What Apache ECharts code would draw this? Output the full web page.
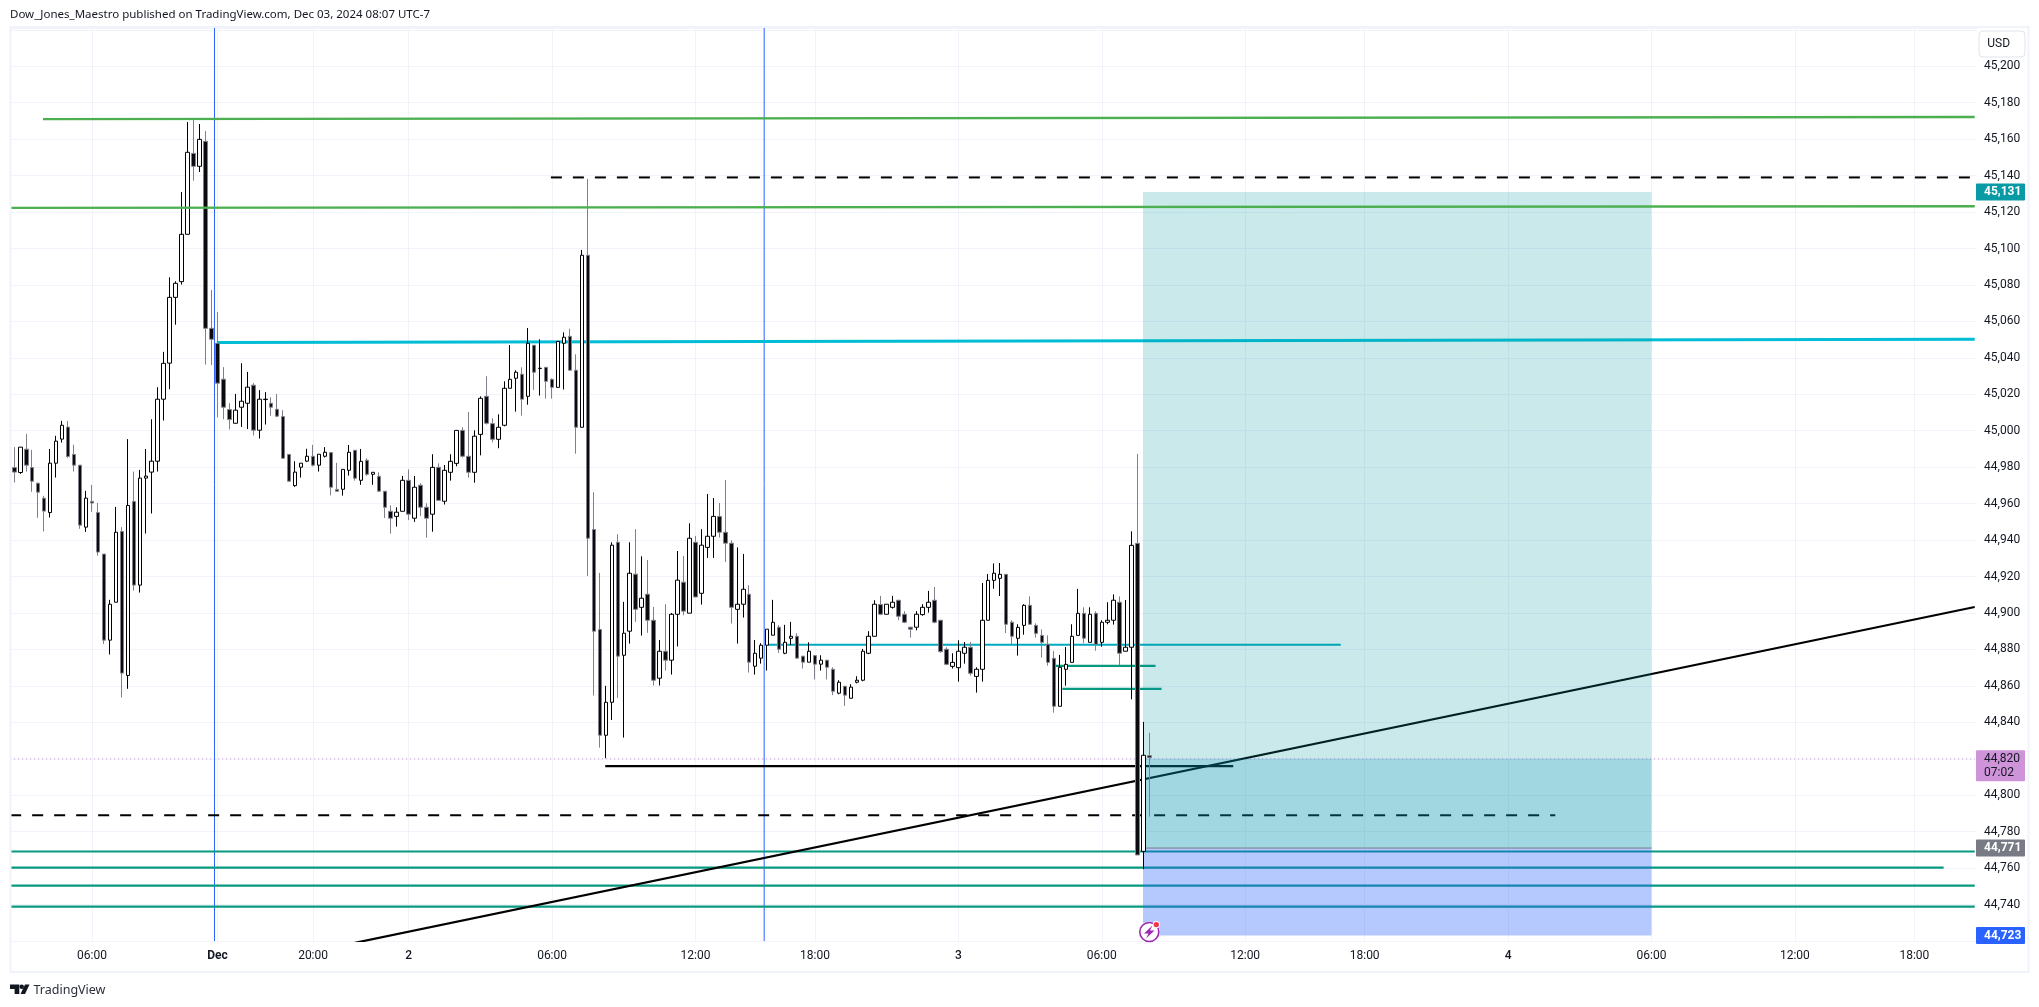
<!DOCTYPE html>
<html><head><meta charset="utf-8">
<style>html,body{margin:0;padding:0;background:#fff}#c{width:2039px;height:1007px}</style>
<script src="https://cdn.jsdelivr.net/npm/echarts@6/dist/echarts.min.js"></script>
</head><body><div id="c"></div>
<script>
// 15-minute bars, index 0..191
const opens = [
44980,44979.8,44977.1,44989.9,44979.8,44971.2,44963,44955.1,44982.2,44995.4,
45002,44987,44981.1,44947.1,44961.2,44955.1,44932.3,44885.1,44905.9,44944.7,
44865.7,44961.2,44915.3,44974,44977.3,44983.3,45017.3,45037.1,45073.2,45081.8,
45107.8,45152.2,45145.1,45158.8,45056.2,45048,45028.3,45011.6,45004.1,45012.9,
45015.1,45025,45000.3,45017.1,45015.1,45011.8,45007.8,44987,44969.9,44980,
44983.3,44986,44981.1,44986,44988,44967.8,44967.9,44978.3,44989.3,44972.8,
44983.8,44976.1,44975,44966.8,44955.8,44953,44955.8,44972.8,44952,44970.1,
44958,44954.2,44979.9,44961.3,44977.2,44982.1,45000.2,44986,44977.2,44998,
45018.9,45003.9,44995.3,45003,45023.3,45028.8,45031,45018.9,45046.9,45034.1,
45034.8,45028.2,45023.8,45048,45051.8,45033.2,45001.9,45096.3,44945.8,44890.9,
44832.9,44851,44938.8,44876.8,44890,44921.3,44903.1,44910.3,44896,44864.2,
44879,44874.1,44899.3,44916.9,44899.9,44938.8,44910.8,44936,44942.1,44953,
44944.3,44938.3,44902,44904.8,44910.3,44870.8,44875.2,44882.3,44887.8,44892.2,
44877.9,44886.1,44887.2,44876.3,44873,44876.6,44871.9,44874.1,44869.1,44856,
44859.8,44853.2,44862,44863.1,44877.9,44887.2,44904.6,44899.3,44903.1,44907,
44899.3,44892.2,44892.2,44899.1,44903.1,44907,44896,44880.1,44870.7,44870,
44877.9,44881.2,44865.2,44869.1,44896,44917.9,44919,44921.2,44894.9,44886.1,
44893.2,44904.2,44893.2,44887.7,44882.8,44875.1,44848.8,44869.1,44872.9,44887.7,
44899.8,44883.9,44899.8,44883.9,44894.9,44896,44905.9,44879,44881.2,44938.2,
44769.2,44821.7];
const closes = [
44963,44977.3,44991,44981.1,44972.3,44966.3,44955.9,44982.2,44994.3,45003,
44985.9,44981.1,44948.2,44963,44960.3,44933.4,44885.1,44904.8,44944.3,44867,
44959,44915.3,44974,44975.1,44983.3,45017.3,45037,45073.2,45080.9,45107.8,
45152.8,45145.1,45159.9,45056.2,45050.2,45026.1,45012.9,45006.2,45011.3,45016.2,
45023.9,45000.3,45017.3,45017.3,45012.9,45008,44984.9,44972.3,44977.3,44982.2,
44986,44981.1,44987.1,44988.2,44969,44966.8,44978.8,44988.2,44973.9,44983.2,
44976.1,44977.2,44966.8,44958,44952,44955.3,44972.8,44954.2,44969,44958,
44952,44979.9,44961.8,44978.3,44983.2,45000.2,44986,44977.2,44997,45017.8,
45004.1,44995.3,45001.9,45023.3,45028.2,45032.1,45017.3,45048,45032.1,45034.3,
45027.1,45023.8,45049,45051.3,45033.2,45001.9,45096.3,44941,44890,44832.9,
44851,44937.2,44876.3,44888.9,44921.8,44902,44908.1,44896,44863.1,44879,
44874.1,44899.3,44918,44901,44941,44908.8,44937.2,44942.1,44953,44944.3,
44938.3,44903.1,44904.8,44913,44873,44877.9,44882.3,44891.1,44894.9,44880.1,
44883.9,44887.2,44875.2,44873,44879,44871.9,44874.1,44870.2,44857,44862,
44854.9,44859.3,44863.1,44879,44887.2,44904.8,44899.3,44904.8,44905.9,44898.2,
44894.9,44891.1,44899.3,44903.1,44905.9,44894.9,44878.8,44871.8,44872.9,44879,
44881.2,44866.9,44869.1,44896,44917.9,44921.8,44921.2,44893.8,44887.2,44892.1,
44904.2,44893.8,44888.8,44883.9,44872.9,44848.8,44870.2,44871.8,44887.2,44899.8,
44886.1,44899.3,44882.8,44894.9,44896,44907,44877.9,44881.2,44937.1,44767.2,
44821.9,44820.6];
const lows = [
44963,44971.6,44976.3,44977.6,44966.5,44952.2,44944.7,44952.4,44974.3,44993.5,
44985.1,44977.6,44946.2,44944.5,44955.5,44931.5,44883,44877.2,44905.9,44853.6,
44858.4,44912.3,44911.2,44943.6,44954.6,44977.6,45005.6,45022.8,45058.2,45080.2,
45107.8,45137.2,45142,45036.3,45036,45007.3,45006.3,45000.7,45004.1,45002.1,
45000.9,44997.4,44995.7,45003.4,45008.2,45007.4,44984.9,44972.3,44969.2,44974.3,
44982.8,44980.4,44977.6,44985.3,44964.5,44966.8,44964.4,44975.4,44972.6,44970.3,
44975.2,44970.3,44966.8,44952.1,44943.5,44947.4,44955.8,44951,44950,44953.2,
44941.3,44944.6,44961.8,44959.5,44972.6,44980.5,44985.3,44974.3,44971.5,44986.5,
45003.4,44993.7,44990.4,45002.4,45023.3,45010.5,45008.3,45014.3,45022.4,45019.3,
45017.6,45017.6,45023.8,45022.6,45033.2,44987.4,45001.9,44920.3,44854.7,44826.1,
44820.3,44841.3,44853.4,44831.6,44883.2,44895.1,44887.6,44889.1,44860.2,44860.2,
44868.4,44866.2,44881.6,44898.8,44899.9,44908.6,44904.6,44930.2,44930.2,44941.4,
44928,44894.2,44883.2,44897.5,44867.3,44866.2,44872.2,44868.4,44887.8,44878.1,
44877.4,44882.3,44875.2,44869.5,44873,44863.5,44868.4,44863.5,44854.9,44855.4,
44849,44853.2,44861.4,44862.5,44877.4,44887.2,44898.8,44899.3,44902.4,44896,
44894.4,44886.5,44890.5,44898.5,44900.2,44894.3,44878.2,44871.3,44869.5,44862.3,
44872.2,44865.6,44856.3,44862.3,44896,44913.3,44909.3,44889,44883,44876.6,
44888.1,44893.8,44886.5,44875.5,44871.1,44845.3,44848.8,44860.1,44872.9,44887.7,
44883.4,44883.9,44879.3,44881.5,44893.8,44893.6,44871.3,44879,44852.6,44767.2,
44759.4,44788.2];
const highs = [
44980,44991,44991,44998.3,44989.5,44971.6,44964.3,44990,44997.2,45005.4,
45005.4,44992.3,44981.1,44967,44970.3,44960.4,44932.3,44907.2,44958.2,44947.1,
44995.4,44977.6,44978.5,44990,45006.3,45023.9,45043.3,45084.2,45082,45131,
45169.4,45170.9,45168.3,45164.5,45077.2,45065.2,45034.9,45015.1,45020.2,45037.1,
45032.3,45026.1,45022.3,45021.2,45018.4,45020.2,45011.3,44987,44983.3,44982.2,
44990.1,44992.3,44987.1,44991,44988,44982.4,44978.8,44992.2,44989.3,44990,
44984.9,44977.2,44977.2,44966.8,44959.1,44958,44975.2,44978.8,44975.2,44971.2,
44960.2,44987.1,44982.1,44981.2,44987.1,45000.2,45001.9,45010.3,45000.2,45018.9,
45029.9,45006.8,45009,45027.1,45047,45033.2,45034.8,45056.4,45046.9,45050.2,
45034.8,45028.8,45049,45054,45056,45041.9,45099.2,45138.2,44966.2,44922,
44860,44938.8,44943.2,44906.1,44938.8,44946,44931.1,44929.1,44903.3,44885.2,
44904.8,44900,44934,44931.3,44949.2,44942.3,44946,44965.3,44963.1,44960.4,
44973,44939.9,44936,44932.4,44915.2,44885.2,44883.4,44891.1,44907.2,44893.3,
44893.5,44895.1,44888.9,44876.3,44883.9,44876.6,44876.8,44874.1,44870.2,44863.1,
44859.8,44860.9,44865.3,44880.3,44890,44907,44909.4,44904.8,44909.4,44907,
44901,44892.2,44901,44904.8,44912.1,44914.3,44896,44881.2,44877.9,44885,
44884.1,44884.1,44870.2,44916.5,44921.4,44927.2,44927.4,44921.2,44896,44893.8,
44904.8,44909.1,44894.3,44891,44887.7,44879.1,44877,44881.3,44893.8,44913.2,
44903.1,44903.1,44900.9,44896,44905.9,44910.2,44909.1,44907.1,44944.8,44987.2,
44840.2,44834.3];
const tickIndex = [14,35,51,67,91,115,135,159,183,207,227,251,275,299,319];
const tickNames = ['06:00','Dec','20:00','2','06:00','12:00','18:00','3','06:00','12:00','18:00','4','06:00','12:00','18:00'];
const barCount = 330;
const yMin = 44720, yMax = 45221, yStep = 20;
const shownYMin = 44740, shownYMax = 45200;
const lastPrice = 44820, targetPrice = 45131, entryPrice = 44771, stopPrice = 44723;
const boxStart = 190.4, boxEnd = 275.5, lastEdge = 329.6;
const sessionLines = [35, 127];
const greenLines = [[6.3,45171,lastEdge,45172.2],[0.8,45122.3,lastEdge,45123.2]];
const cyanThick = [35.4,45048.4,lastEdge,45050.2];
const cyanThin = [127.6,44882.6,223.5,44882.6];
const tealLines = [[175.8,44871,192.5,44871],[176.9,44858.4,193.5,44858.4],
  [0.8,44769.1,lastEdge,44769.1],[0.8,44760.3,324.4,44760.3],[0.8,44750.4,lastEdge,44750.4],[0.8,44738.9,lastEdge,44738.9]];
const blackLines = [[100.4,44816,205.5,44816],[58.5,44719,lastEdge,44903.3]];
const dashedLines = [[91.3,45139,329.4,45139],[0.8,44789,259.4,44789]];

const categories = Array.from({length:barCount},(_,i)=>{const k=tickIndex.indexOf(i);return k>=0?tickNames[k]:''});
const candle = opens.map((o,i)=>[o,closes[i],lows[i],highs[i]]);
const FONT='Roboto';
const chart = echarts.init(document.getElementById('c'),null,{renderer:'canvas'});
function seg(s,color,width,z,type){
  return {type:'line',xAxisIndex:1,yAxisIndex:0,data:[[s[0],s[1]],[s[2],s[3]]],symbol:'none',silent:true,z:z,
    lineStyle:{color:color,width:width,type:type||'solid'},animation:false};
}
const isTick=i=>tickIndex.indexOf(i)>=0;
const series=[
 {type:'candlestick',xAxisIndex:0,yAxisIndex:0,data:candle,barWidth:4,z:5,animation:false,silent:true,
  itemStyle:{color:'#ffffff',color0:'#0a0a0f',borderColor:'#000000',borderColor0:'#80808a',borderWidth:1}},
 {type:'line',xAxisIndex:1,yAxisIndex:0,data:[],symbol:'none',silent:true,z:1,animation:false,
  markArea:{silent:true,z:2,animation:false,data:[
   [{xAxis:boxStart,yAxis:targetPrice,itemStyle:{color:'rgba(0,150,160,0.21)'}},{xAxis:boxEnd,yAxis:entryPrice}],
   [{xAxis:boxStart,yAxis:lastPrice,itemStyle:{color:'rgba(0,143,180,0.2)'}},{xAxis:boxEnd,yAxis:entryPrice}],
   [{xAxis:boxStart,yAxis:entryPrice,itemStyle:{color:'rgba(41,98,255,0.34)'}},{xAxis:boxEnd,yAxis:stopPrice}]
  ]}},
 seg([boxStart,entryPrice,boxEnd,entryPrice],'#787b86',1,3),
 seg([0.8,lastPrice,lastEdge,lastPrice],'#ce93d8',1,1,[1,3]),
 ...sessionLines.map(u=>seg([u,yMin,u,yMax],'#2962ff',1,1)),
 ...greenLines.map(s=>seg(s,'#4caf50',2.4,6)),
 seg(cyanThick,'#00bcd4',3,1),
 seg(cyanThin,'#00a9bd',2,1),
 ...tealLines.map(s=>seg(s,'#089981',2.2,1)),
 ...blackLines.map(s=>seg(s,'#000000',2.2,1)),
 ...dashedLines.map(s=>seg(s,'#000000',2,1,[11,11]))
];
chart.setOption({
 animation:false,backgroundColor:'#ffffff',
 grid:{left:5.36,top:28,width:barCount*5.975,height:913,containLabel:false},
 xAxis:[
  {type:'category',data:categories,boundaryGap:true,axisLine:{show:false},axisTick:{show:false},
   axisLabel:{interval:(i)=>isTick(i),margin:9,hideOverlap:false,color:'#131722',fontFamily:FONT,fontSize:12,
     formatter:(v)=>v==='Dec'?'{b|Dec}':(v.length<2?'{m|'+v+'}':v),
     rich:{b:{fontWeight:'bold',color:'#131722',fontFamily:FONT,fontSize:12},
           m:{fontWeight:500,color:'#131722',fontFamily:FONT,fontSize:12}}},
   splitLine:{show:true,alignWithLabel:true,interval:(i)=>isTick(i),lineStyle:{color:'#f0f3fa',width:1}}},
  {type:'value',min:0,max:barCount,show:false,splitLine:{show:false}}
 ],
 yAxis:[{type:'value',position:'right',min:yMin,max:yMax,interval:yStep,scale:true,
  axisLine:{show:false},axisTick:{show:false},
  axisLabel:{margin:7,color:'#131722',fontFamily:FONT,fontSize:12,
    formatter:(v)=>(v<shownYMin||v>shownYMax)?'':echarts.format.addCommas(v)},
  splitLine:{show:true,lineStyle:{color:'#f0f3fa',width:1}}}],
 series:series
});
function tag(y,h,fill,lines,color,bold){
  const els=[{type:'rect',z:50,shape:{x:1976,y:y-h/2,width:49,height:h,r:1},style:{fill:fill}}];
  lines.forEach((t,k)=>{els.push({type:'text',z:51,style:{x:1984,y:y-h/2+8.5+k*14.5,text:t,fill:color,
    font:(bold?'bold ':'')+'12px '+FONT,align:'left',verticalAlign:'middle'}})});
  return els;
}
const py=v=>chart.convertToPixel({yAxisIndex:0},v);
const fmt=echarts.format.addCommas;
const my=932;
const gfx=[
 {type:'rect',z:40,shape:{x:0,y:0,width:10,height:1007},style:{fill:'#fff'}},
 {type:'rect',z:41,shape:{x:10.5,y:27,width:2018,height:945},style:{fill:'none',stroke:'#f0f3fa',lineWidth:2}},
 {type:'text',z:60,style:{x:10,y:15,text:'Dow_Jones_Maestro published on TradingView.com, Dec 03, 2024 08:07 UTC-7',
   fill:'#131722',font:'11.5px "Noto Sans"',align:'left',verticalAlign:'middle'}},
 {type:'polygon',z:60,shape:{points:[[10,984.5],[19.3,984.5],[19.3,994],[14.6,994],[14.6,989],[10,989]]},style:{fill:'#131722'}},
 {type:'circle',z:60,shape:{cx:21.7,cy:986.8,r:2.3},style:{fill:'#131722'}},
 {type:'polygon',z:60,shape:{points:[[25,984.5],[29.5,984.5],[25,994],[20.5,994]]},style:{fill:'#131722'}},
 {type:'text',z:60,style:{x:33.5,y:990,text:'TradingView',fill:'#2a2e39',font:'12.5px "Noto Sans"',align:'left',verticalAlign:'middle'}},
 {type:'rect',z:60,shape:{x:1979,y:31,width:46,height:26,r:4},style:{fill:'#fff',stroke:'#e0e3eb',lineWidth:1}},
 {type:'text',z:61,style:{x:1998.7,y:44,text:'USD',fill:'#131722',font:'12px '+FONT,align:'center',verticalAlign:'middle'}},
 {type:'circle',z:60,shape:{cx:1149.3,cy:my,r:10.5},style:{fill:'#fff'}},
 {type:'circle',z:61,shape:{cx:1149.3,cy:my,r:9.5},style:{fill:'#fff',stroke:'#9c27b0',lineWidth:1.6}},
 {type:'polygon',z:62,shape:{points:[[1152.5,925.5],[1144,933.5],[1148.5,933.5],[1146,938.5],[1154.5,930.5],[1150,930.5]]},style:{fill:'#9c27b0'}},
 {type:'circle',z:63,shape:{cx:1156.3,cy:924.6,r:3.6},style:{fill:'#fff'}},
 {type:'circle',z:64,shape:{cx:1156.3,cy:924.6,r:2.7},style:{fill:'#f23645'}},
 ...tag(py(targetPrice),17,'#089aa5',[fmt(targetPrice)],'#ffffff',true),
 ...tag(py(lastPrice)+7,31,'#ce93d8',[fmt(lastPrice),'07:02'],'#131722',false),
 ...tag(py(entryPrice),17,'#787b86',[fmt(entryPrice)],'#ffffff',true),
 ...tag(py(stopPrice),17,'#2962ff',[fmt(stopPrice)],'#ffffff',true)
];
chart.setOption({graphic:{elements:gfx}});
</script></body></html>
